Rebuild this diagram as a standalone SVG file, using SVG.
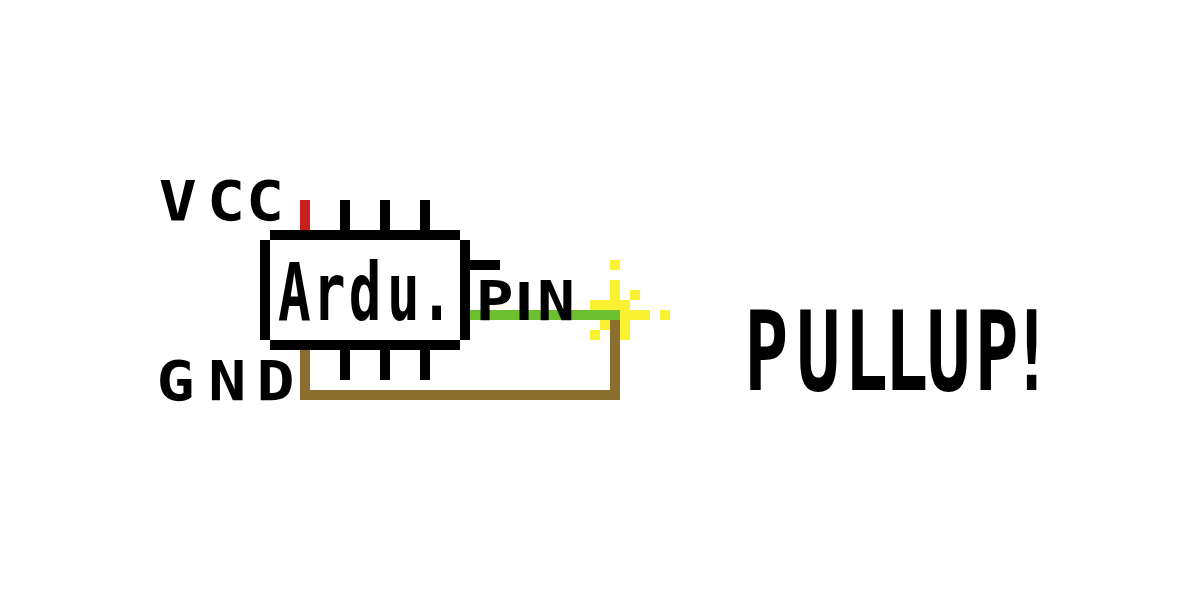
<svg xmlns="http://www.w3.org/2000/svg" width="1200" height="600" viewBox="0 0 1200 600">
<style>
rect{shape-rendering:crispEdges}
.k{fill:#000}.r{fill:#c8201f}.b{fill:#8b6f2f}.g{fill:#6cbf2e}.y{fill:#fbf133}
text{font-family:"DejaVu Sans Mono",monospace;fill:#000;font-weight:700}
.s{font-size:55px}
</style>
<rect width="1200" height="600" fill="#fff"/>
<g id="spark">
<rect class="y" x="610" y="260" width="10" height="10"/>
<rect class="y" x="610" y="280" width="10" height="20"/>
<rect class="y" x="630" y="290" width="10" height="10"/>
<rect class="y" x="590" y="300" width="40" height="10"/>
<rect class="y" x="620" y="310" width="30" height="10"/>
<rect class="y" x="660" y="310" width="10" height="10"/>
<rect class="y" x="620" y="320" width="10" height="20"/>
<rect class="y" x="600" y="320" width="10" height="10"/>
<rect class="y" x="590" y="330" width="10" height="10"/>
</g>
<g id="connectors">
<rect class="r" x="300" y="200" width="10" height="30"/>
<rect class="b" x="300" y="350" width="10" height="50"/>
<rect class="b" x="300" y="390" width="320" height="10"/>
<rect class="b" x="610" y="320" width="10" height="80"/>
<rect class="g" x="470" y="310" width="150" height="10"/>
</g>
<g id="chip">
<rect class="k" x="270" y="230" width="190" height="10"/>
<rect class="k" x="270" y="340" width="190" height="10"/>
<rect class="k" x="260" y="240" width="10" height="100"/>
<rect class="k" x="460" y="240" width="10" height="100"/>
<rect class="k" x="340" y="200" width="10" height="30"/>
<rect class="k" x="380" y="200" width="10" height="30"/>
<rect class="k" x="420" y="200" width="10" height="30"/>
<rect class="k" x="340" y="350" width="10" height="30"/>
<rect class="k" x="380" y="350" width="10" height="30"/>
<rect class="k" x="420" y="350" width="10" height="30"/>
<rect class="k" x="470" y="260" width="30" height="10"/>
<text transform="scale(.68 1)" x="409 460 513 569 618" y="320" font-size="80">Ardu.</text>
</g>
<g id="labels">
<text class="s" transform="scale(1.15 1)" x="138 180 214" y="220">VCC</text>
<text class="s" transform="scale(1.15 1)" x="136 181 223" y="400">GND</text>
<text class="s" transform="scale(1.15 1)" x="413.5" y="320">P<tspan x="448" font-family="Liberation Sans">I</tspan><tspan x="467">N</tspan></text>
<text transform="scale(.66 1)" x="1128 1207 1279 1340 1404 1477 1530" y="390" font-size="110">PULLUP!</text>
</g>
</svg>
